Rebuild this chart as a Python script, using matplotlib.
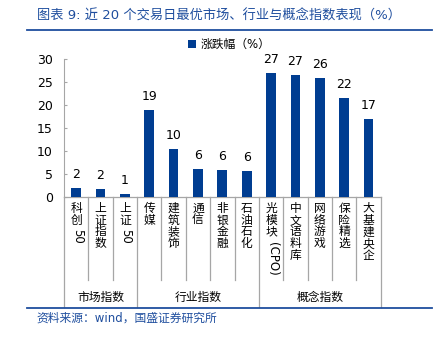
import matplotlib.pyplot as plt
import matplotlib.transforms as mtransforms
import numpy as np

plt.rcParams['font.family'] = ['DejaVu Sans', 'Noto Sans CJK SC']

# 各指数近20个交易日涨跌幅
labels = ['科创50', '上证指数', '上证50', '传媒', '建筑装饰', '通信', '非银金融',
          '石油石化', '光模块(CPO)', '中文语料库', '网络游戏', '保险精选', '大基建央企']
values = [2.0, 1.8, 0.6, 18.9, 10.4, 6.0, 5.9, 5.7, 26.9, 26.6, 25.9, 21.6, 16.9]
groups = ['市场指数', '行业指数', '概念指数']
group_sizes = [3, 5, 5]

bar_color = '#003D91'
title_color = '#1F4E9E'
axis_color = '#A6A6A6'

fig = plt.figure(figsize=(4.45, 3.37), dpi=100)
ax = fig.add_axes([0.1438, 0.4154, 0.7117, 0.4095])

x = np.arange(len(labels))
bars = ax.bar(x, values, width=0.4, color=bar_color, label='涨跌幅（%）', zorder=3)
ax.bar_label(bars, labels=['%d' % round(v) for v in values], padding=5, fontsize=9)

ax.set_xlim(-0.5, len(labels) - 0.5)
ax.set_ylim(0, 30)
ax.set_yticks(np.arange(0, 31, 5))
ax.tick_params(axis='y', direction='in', length=2, color=axis_color, labelsize=9, pad=8)
ax.set_xticks([])
for side in ['top', 'right', 'bottom']:
    ax.spines[side].set_visible(False)
ax.spines['left'].set_color(axis_color)
ax.spines['left'].set_bounds(0, 30)

trans = mtransforms.blended_transform_factory(ax.transData, ax.transAxes)
line_kw = dict(color=axis_color, lw=0.9, transform=trans, clip_on=False)

# 横轴及分隔线
ax.plot([-0.5, len(labels) - 0.5], [0, 0], **line_kw)
bounds = np.cumsum([0] + group_sizes) - 0.5
for b in np.arange(-0.5, len(labels)):
    low = -0.797 if b in bounds else -0.601
    ax.plot([b, b], [0, low], **line_kw)

# 竖排类别标签：汉字逐字竖排，字母数字部分旋转
pitch = 9.4  # 字距, pt
top = 3.5    # 首字上沿距横轴, pt
for i, lab in enumerate(labels):
    cjk = ''.join(c for c in lab if ord(c) > 0x2E80)
    latin = lab[len(cjk):]
    ax.annotate('\n'.join(cjk), (i, 0), xycoords=trans, xytext=(0, -top),
                textcoords='offset points', ha='center', va='top',
                fontsize=8.5, linespacing=0.88, annotation_clip=False)
    if latin:
        ax.annotate(latin, (i, 0), xycoords=trans,
                    xytext=(0.8, -top - len(cjk) * pitch - 1.0),
                    textcoords='offset points', ha='center', va='top',
                    rotation=270, fontsize=8.5, annotation_clip=False)

# 分组标签
for g, lo, hi in zip(groups, bounds[:-1], bounds[1:]):
    ax.text((lo + hi) / 2, -0.725, g, transform=trans, ha='center', va='center',
            fontsize=8.5)

fig.legend(loc='center', bbox_to_anchor=(0.515, 0.868), frameon=False, fontsize=8.5,
           handlelength=0.7, handleheight=0.7, handletextpad=0.4)

fig.text(0.083, 0.953, '图表 9: 近 20 个交易日最优市场、行业与概念指数表现（%）',
         color=title_color, fontsize=9.5, ha='left', va='center')
fig.add_artist(plt.Line2D([0.061, 0.971], [0.911, 0.911], color=title_color, lw=1.3))
fig.add_artist(plt.Line2D([0.061, 0.971], [0.087, 0.087], color=title_color, lw=1.3))
fig.text(0.083, 0.055, '资料来源：wind，国盛证券研究所', color=title_color, fontsize=8.5,
         ha='left', va='center')

fig.savefig('out.png', dpi=100)
